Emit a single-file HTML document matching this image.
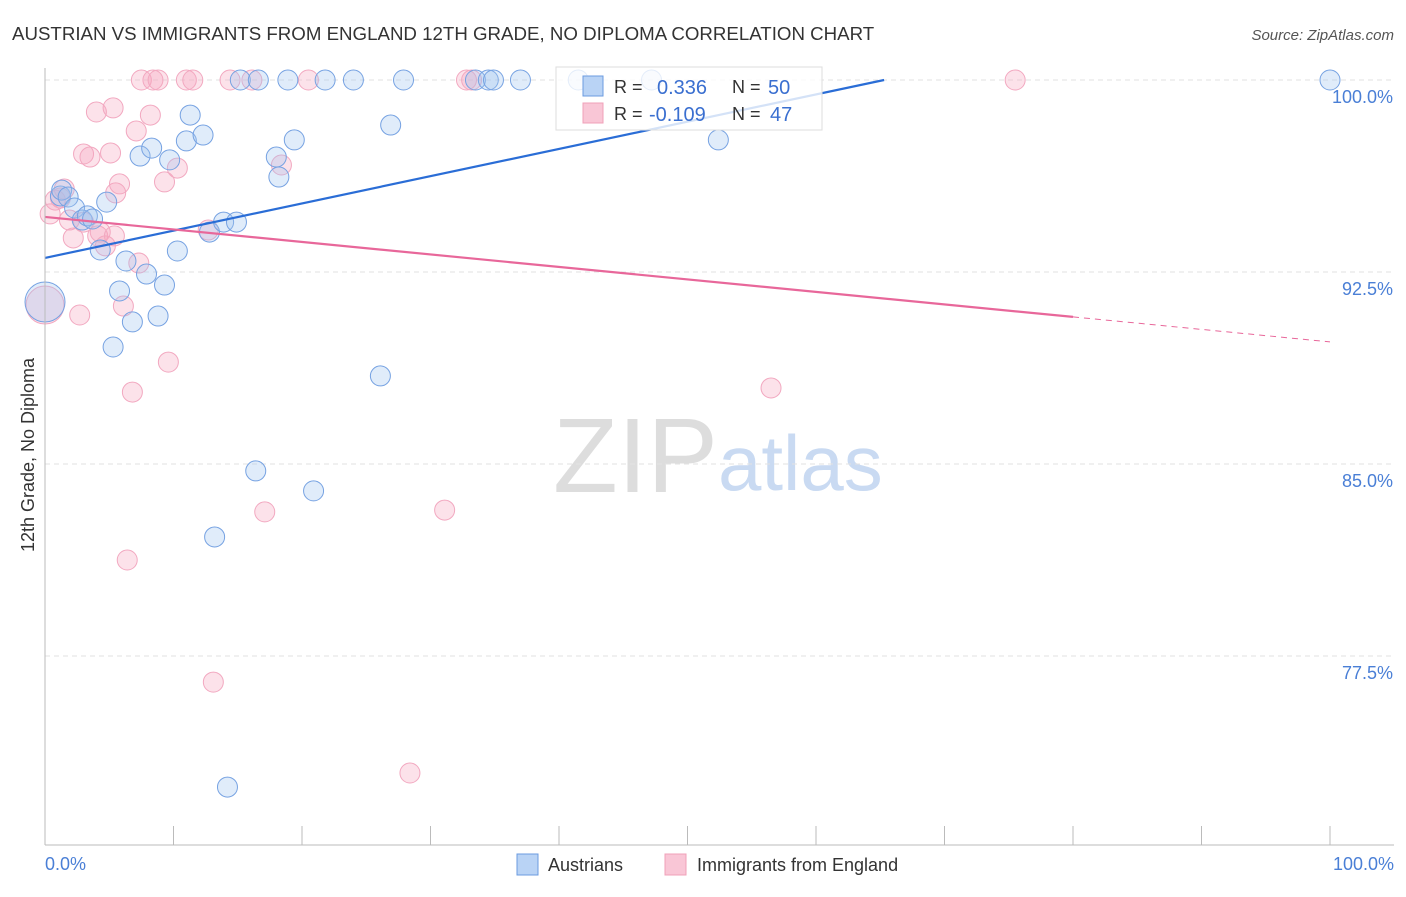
<!DOCTYPE html>
<html><head><meta charset="utf-8"><style>
body{margin:0;background:#fff;font-family:"Liberation Sans",sans-serif;}
svg text{font-family:"Liberation Sans",sans-serif;}
</style></head><body>
<svg id="c" width="1406" height="892" xmlns="http://www.w3.org/2000/svg">
<text x="12" y="40" font-size="18.7" fill="#333">AUSTRIAN VS IMMIGRANTS FROM ENGLAND 12TH GRADE, NO DIPLOMA CORRELATION CHART</text>
<text x="1394" y="40" font-size="15" fill="#555" text-anchor="end" font-style="italic">Source: ZipAtlas.com</text>
<text x="34" y="455" font-size="18" fill="#333" text-anchor="middle" transform="rotate(-90 34 455)">12th Grade, No Diploma</text>
<text x="553" y="492" font-size="106" fill="#ddd" font-family="Liberation Serif">ZIP</text>
<text x="718" y="490" font-size="78" fill="#c9daf2">atlas</text>
<g id="grid"></g><g id="pts"></g><g id="lines"></g>
<line x1="45" y1="68" x2="45" y2="845" stroke="#bbb"/>
<line x1="45" y1="845" x2="1394" y2="845" stroke="#bbb"/>
<text x="45" y="870" font-size="18" fill="#4a7fd6">0.0%</text>
<text x="1394" y="870" font-size="18" fill="#4a7fd6" text-anchor="end">100.0%</text>
<g>
<rect x="556" y="67" width="266" height="63" fill="#fff" fill-opacity="0.8" stroke="#ddd"/>
<rect x="583" y="76" width="20" height="20" fill="#b9d3f5" stroke="#6b9be0"/>
<rect x="583" y="103" width="20" height="20" fill="#f9c6d6" stroke="#f0a0b8"/>
<text x="614" y="93" font-size="18" fill="#333">R =</text><text x="657" y="94" font-size="20" fill="#3a6fd0">0.336</text>
<text x="732" y="93" font-size="18" fill="#333">N =</text><text x="768" y="94" font-size="20" fill="#3a6fd0">50</text>
<text x="614" y="120" font-size="18" fill="#333">R =</text><text x="649" y="121" font-size="20" fill="#3a6fd0">-0.109</text>
<text x="732" y="120" font-size="18" fill="#333">N =</text><text x="770" y="121" font-size="20" fill="#3a6fd0">47</text>
</g>
<g><rect x="517" y="854" width="21" height="21" fill="#b9d3f5" stroke="#6b9be0"/><text x="548" y="871" font-size="18" fill="#333">Austrians</text></g>
<g><rect x="665" y="854" width="21" height="21" fill="#f9c6d6" stroke="#f0a0b8"/><text x="697" y="871" font-size="18" fill="#333">Immigrants from England</text></g>
</svg>
<script>
const yTicks=[100,92.5,85,77.5];
const xTicks=[0,10,20,30,40,50,60,70,80,90,100];
const blueX=[0,1.2,1.3,1.8,2.3,2.9,3.3,3.7,4.3,4.8,5.3,5.8,6.3,6.8,7.4,7.9,8.3,8.8,9.3,9.7,10.3,11.0,11.3,12.3,12.8,13.9,14.9,14.2,13.2,16.4,18.0,18.2,19.4,20.9,26.1,26.9,15.2,16.6,18.9,21.8,24.0,27.9,33.5,34.5,34.9,37.0,41.5,47.2,52.4,100];
const blueY=[91.33,95.47,95.7,95.43,95.0,94.53,94.69,94.57,93.36,95.23,89.57,91.76,92.93,90.55,97.03,92.42,97.34,90.78,91.99,96.88,93.32,97.62,98.63,97.85,94.06,94.45,94.45,72.38,82.15,84.73,96.99,96.21,97.66,83.95,88.44,98.24,100,100,100,100,100,100,100,100,100,100,100,100,97.66,100];
const pinkX=[0,0.4,0.8,1.5,1.9,2.2,2.7,3.0,3.5,4.0,4.1,4.3,4.7,5.1,5.3,5.5,5.8,6.1,6.4,6.8,7.1,7.3,8.2,9.3,9.6,10.3,12.7,13.1,17.1,18.4,28.4,31.1,56.5,7.5,8.4,8.8,11.0,11.5,14.4,16.1,20.5,32.8,33.2,75.5,1.2,3.0,5.4];
const pinkY=[91.21,94.77,95.31,95.74,94.53,93.83,90.82,97.11,96.99,98.75,93.91,94.06,93.52,97.15,98.91,95.59,95.94,91.17,81.25,87.81,98.01,92.85,98.63,96.02,88.98,96.56,94.14,76.48,83.13,96.68,72.93,83.2,87.97,100,100,100,100,100,100,100,100,100,100,100,95.39,94.45,93.91];
const blueTrend=[93.05,100,65.3];
const pinkTrend=[94.65,-0.0488];
const X=v=>45+v*12.85, Y=v=>80+(100-v)*25.6;
const NS='http://www.w3.org/2000/svg';
function mk(t,a,p){const e=document.createElementNS(NS,t);for(const k in a)e.setAttribute(k,a[k]);p.appendChild(e);return e;}
const grid=document.getElementById('grid');
yTicks.forEach(t=>{
 const l=mk('line',{x1:45,x2:1394,y1:Y(t),y2:Y(t),stroke:'#e2e2e2','stroke-dasharray':'5,4'},grid);
 
 
 const tx=mk('text',{x:1393,y:Y(t)+23,'font-size':18,fill:'#4a7fd6','text-anchor':'end'},grid);
 tx.textContent=t.toFixed(1)+'%';
 
 
});
xTicks.forEach(t=>{
 const l=mk('line',{x1:X(t),x2:X(t),y1:826,y2:845,stroke:'#bbb'},grid);
 
 
});
const pts=document.getElementById('pts');
pinkX.forEach((x,i)=>{
 const c=mk('circle',{cx:X(x),cy:Y(pinkY[i]),r:i==0?19:10,fill:'rgba(245,165,190,0.32)',stroke:'#f2a8c0','stroke-width':1},pts);
 
 
});
blueX.forEach((x,i)=>{
 const c=mk('circle',{cx:X(x),cy:Y(blueY[i]),r:i==0?20:10,fill:'rgba(160,195,240,0.32)',stroke:'#76a2e2','stroke-width':1},pts);
 
 
});
const lines=document.getElementById('lines');
let b=mk('line',{x1:X(0),y1:Y(blueTrend[0]),x2:X(blueTrend[2]),y2:Y(blueTrend[1]),stroke:'#2a6dd6','stroke-width':2.2},lines);


let p=mk('line',{x1:X(0),y1:Y(pinkTrend[0]),x2:X(80),y2:Y(pinkTrend[0]+pinkTrend[1]*80),stroke:'#e8679a','stroke-width':2.2},lines);


let pd=mk('line',{x1:X(80),y1:Y(pinkTrend[0]+pinkTrend[1]*80),x2:X(100),y2:Y(pinkTrend[0]+pinkTrend[1]*100),stroke:'#e8679a','stroke-width':1,'stroke-dasharray':'6,5'},lines);


</script>
</body></html>
